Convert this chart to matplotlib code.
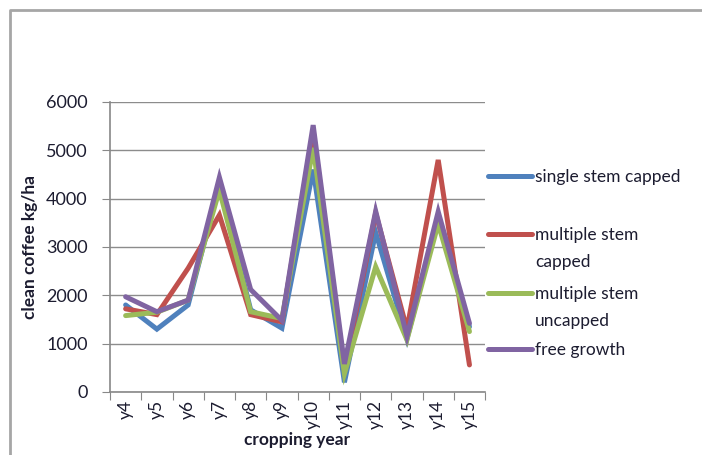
import matplotlib
matplotlib.use("Agg")
import matplotlib.pyplot as plt
from matplotlib.lines import Line2D

years = ["y4", "y5", "y6", "y7", "y8", "y9", "y10", "y11", "y12", "y13", "y14", "y15"]
single_capped = [1800, 1300, 1800, 4300, 1700, 1320, 4600, 200, 3300, 1100, 3600, 1350]
multi_capped = [1720, 1600, 2560, 3660, 1600, 1450, 5400, 450, 3700, 1300, 4800, 560]
multi_uncapped = [1580, 1650, 1900, 4180, 1660, 1520, 5050, 380, 2590, 1080, 3480, 1250]
free_growth = [1970, 1660, 1900, 4440, 2120, 1480, 5520, 580, 3740, 1150, 3730, 1420]

series = [
    ("single stem capped", single_capped, "#4F81BD"),
    ("multiple stem\ncapped", multi_capped, "#C0504D"),
    ("multiple stem\nuncapped", multi_uncapped, "#9BBB59"),
    ("free growth", free_growth, "#8064A2"),
]

plt.rcParams['font.family'] = ['Lato', 'DejaVu Sans']
txt = '#1c1c30'

fig = plt.figure(figsize=(7.02, 4.55), dpi=100)
ax = fig.add_axes([0.1567, 0.1385, 0.5343, 0.6375])

x = list(range(len(years)))
for name, vals, col in series:
    ax.plot(x, vals, color=col, lw=3.6, solid_capstyle='round', solid_joinstyle='miter')

ax.set_xlim(-0.5, len(years) - 0.5)
ax.set_ylim(0, 6000)
ax.set_yticks(range(0, 6001, 1000))
ax.set_xticks([i - 0.5 for i in range(len(years) + 1)], minor=False)
ax.set_xticklabels([])
ax.set_xticks(x, minor=True)
ax.set_xticklabels(years, minor=True, rotation=90, fontsize=12.5, color=txt)
ax.tick_params(axis='x', which='minor', length=0, pad=6)
ax.tick_params(axis='x', which='major', length=6, color='#888888', direction='out')
ax.tick_params(axis='y', length=6, color='#888888', labelsize=13, labelcolor=txt, pad=10)

ax.grid(axis='y', color='#8c8c8c', lw=1)
ax.set_axisbelow(True)
for s in ['top', 'right']:
    ax.spines[s].set_visible(False)
for s in ['left', 'bottom']:
    ax.spines[s].set_color('#888888')
    ax.spines[s].set_linewidth(1.2)

ax.set_ylabel('clean coffee kg/ha', fontsize=12.5, fontweight='bold', color=txt, labelpad=6)
ax.set_xlabel('cropping year', fontsize=12.5, fontweight='bold', color=txt, labelpad=2)

# legend drawn by hand so the swatch sits on the first text line
leg_y = [176, 234, 293, 349]
for (name, vals, col), yy in zip(series, leg_y):
    fy = 1 - yy / 455
    fig.add_artist(Line2D([488 / 702, 532 / 702], [fy, fy], color=col, lw=3.6,
                          solid_capstyle='round', transform=fig.transFigure))
    fig.text(535 / 702, fy + 0.016, name, fontsize=12.5, color=txt, va='top',
             linespacing=1.85, transform=fig.transFigure)

# outer chart frame (top and left edges)
fig.add_artist(Line2D([10 / 702, 10 / 702, 1], [0, 1 - 10 / 455, 1 - 10 / 455],
                      color='#a6a6a6', lw=2, transform=fig.transFigure))

fig.savefig('out.png', dpi=100, facecolor='white')
